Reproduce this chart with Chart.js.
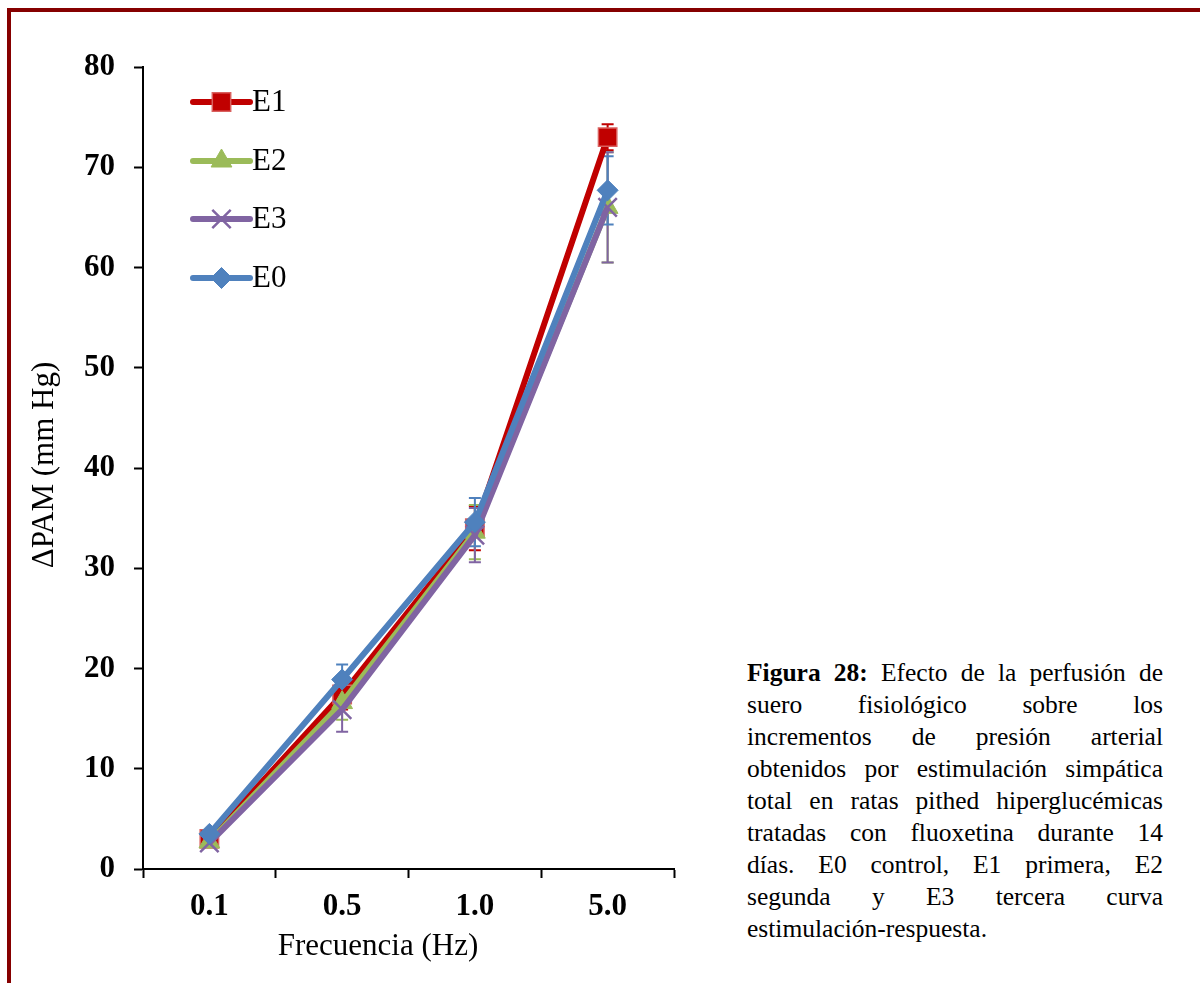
<!DOCTYPE html>
<html lang="es">
<head>
<meta charset="utf-8">
<title>Figura 28 – ΔPAM vs frecuencia</title>
<script src="https://cdn.jsdelivr.net/npm/chart.js@4/dist/chart.umd.min.js"></script>
<style>
  html, body { margin: 0; padding: 0; background: #ffffff; }
  body { width: 1200px; height: 983px; position: relative; overflow: hidden; }
  .frame {
    position: absolute; left: 7px; top: 8px; width: 1300px; height: 1100px;
    border-left: 4px solid #860000; border-top: 4px solid #860000;
  }
  #chartBox { position: absolute; left: 0; top: 0; width: 700px; height: 983px; }
  .caption {
    position: absolute; left: 747px; top: 657px; width: 416px;
    font-family: 'Liberation Serif', 'Times New Roman', serif;
    font-size: 25.5px; line-height: 32px; color: #000;
  }
  .caption div { text-align: justify; text-align-last: justify; white-space: nowrap; }
  .caption div.last { text-align-last: left; }
</style>
</head>
<body>
<div class="frame"></div>
<div id="chartBox"><canvas id="chart" width="700" height="983"></canvas></div>
<div class="caption">
  <div><b>Figura 28:</b> Efecto de la perfusión de</div>
  <div>suero fisiológico sobre los</div>
  <div>incrementos de presión arterial</div>
  <div>obtenidos por estimulación simpática</div>
  <div>total en ratas pithed hiperglucémicas</div>
  <div>tratadas con fluoxetina durante 14</div>
  <div>días. E0 control, E1 primera, E2</div>
  <div>segunda y E3 tercera curva</div>
  <div class="last">estimulación-respuesta.</div>
</div>
<script>
// Stimulation frequencies (Hz)
const categories = ['0.1', '0.5', '1.0', '5.0'];

// Mean ΔPAM (mm Hg) per curve and its error
const e1Values = [3.0, 17.4, 34.0, 73.0];
const e1Errors = [0.4, 1.5, 2.2, 1.3];
const e2Values = [2.7, 16.6, 33.6, 66.0];
const e2Errors = [0.4, 1.7, 2.7, 5.5];
const e3Values = [2.6, 15.9, 33.3, 66.0];
const e3Errors = [0.4, 2.2, 2.7, 5.5];
const e0Values = [3.5, 18.9, 34.6, 67.7];
const e0Errors = [0.4, 1.5, 2.4, 3.4];

// Y axis range
const yMin = 0, yMax = 80, yStep = 10;

const seriesNames = ['E1', 'E2', 'E3', 'E0'];

const SERIF = "'Liberation Serif', 'Times New Roman', serif";
Chart.defaults.font.family = SERIF;
Chart.defaults.color = '#000';

const RED = '#C00000', GREEN = '#9BBB59', PURPLE = '#8064A2', BLUE = '#4F81BD';

function series(label, data, errors, color, style, order) {
  return {
    label, data, errors, order,
    borderColor: color, backgroundColor: color,
    borderWidth: 6, tension: 0, fill: false,
    pointStyle: style.shape, pointRadius: style.radius,
    pointHoverRadius: style.radius,
    pointBackgroundColor: style.fill, pointBorderColor: style.stroke,
    pointBorderWidth: style.strokeWidth
  };
}

const datasets = [
  series('E1', e1Values, e1Errors, RED,
    { shape: 'rect', radius: 13, fill: RED, stroke: '#D9605E', strokeWidth: 1.5 }, 3),
  series('E2', e2Values, e2Errors, GREEN,
    { shape: 'triangle', radius: 12, fill: GREEN, stroke: GREEN, strokeWidth: 1 }, 2),
  series('E3', e3Values, e3Errors, PURPLE,
    { shape: 'crossRot', radius: 13, fill: PURPLE, stroke: PURPLE, strokeWidth: 2.5 }, 1),
  series('E0', e0Values, e0Errors, BLUE,
    { shape: 'rectRot', radius: 10.5, fill: BLUE, stroke: BLUE, strokeWidth: 1 }, 0)
];

// Vertical error bars with caps, drawn from each dataset's errors array
const errorBars = {
  id: 'errorBars',
  beforeDatasetsDraw(chart) {
    const { ctx, scales: { x, y } } = chart;
    const cap = 6;
    ctx.save();
    chart.data.datasets.forEach((ds) => {
      ctx.strokeStyle = ds.borderColor;
      ctx.lineWidth = 2;
      ds.data.forEach((v, i) => {
        const e = ds.errors[i];
        const px = x.getPixelForValue(i);
        const top = y.getPixelForValue(v + e);
        const bot = y.getPixelForValue(v - e);
        ctx.beginPath();
        ctx.moveTo(px, top); ctx.lineTo(px, bot);
        ctx.moveTo(px - cap, top); ctx.lineTo(px + cap, top);
        ctx.moveTo(px - cap, bot); ctx.lineTo(px + cap, bot);
        ctx.stroke();
      });
    });
    ctx.restore();
  }
};

// Legend stacked inside the plot area, top-left
const insideLegend = {
  id: 'insideLegend',
  afterDraw(chart) {
    const { ctx, chartArea } = chart;
    const x0 = chartArea.left + 50, x1 = chartArea.left + 107;
    const rowY = [chartArea.top + 35, chartArea.top + 94, chartArea.top + 152, chartArea.top + 211];
    ctx.save();
    seriesNames.forEach((name, k) => {
      const ds = chart.data.datasets.find(d => d.label === name);
      const yy = rowY[k];
      ctx.strokeStyle = ds.borderColor;
      ctx.lineWidth = 6;
      ctx.lineCap = 'round';
      ctx.beginPath();
      ctx.moveTo(x0, yy); ctx.lineTo(x1, yy);
      ctx.stroke();
      ctx.fillStyle = ds.pointBackgroundColor;
      ctx.strokeStyle = ds.pointBorderColor;
      ctx.lineWidth = ds.pointBorderWidth;
      ctx.lineCap = 'butt';
      Chart.helpers.drawPoint(ctx, {
        pointStyle: ds.pointStyle, radius: ds.pointRadius,
        rotation: 0, borderWidth: ds.pointBorderWidth
      }, (x0 + x1) / 2, yy);
      ctx.fillStyle = '#000';
      ctx.font = '31px ' + SERIF;
      ctx.textBaseline = 'middle';
      ctx.textAlign = 'left';
      ctx.fillText(name, x1 + 2, yy + 1);
    });
    ctx.restore();
  }
};

// Axis titles
const axisTitles = {
  id: 'axisTitles',
  afterDraw(chart) {
    const { ctx, chartArea } = chart;
    ctx.save();
    ctx.fillStyle = '#000';
    ctx.font = '31px ' + SERIF;
    ctx.textAlign = 'center';
    ctx.textBaseline = 'middle';
    ctx.fillText('Frecuencia (Hz)', chartArea.left + 235, chartArea.bottom + 78);
    ctx.translate(45, (chartArea.top + chartArea.bottom) / 2 - 3);
    ctx.rotate(-Math.PI / 2);
    ctx.fillText('ΔPAM (mm Hg)', 0, 0);
    ctx.restore();
  }
};

new Chart(document.getElementById('chart'), {
  type: 'line',
  data: { labels: categories, datasets },
  options: {
    responsive: false,
    animation: false,
    devicePixelRatio: 1,
    layout: { padding: { top: 67, right: 26, left: 0, bottom: 0 } },
    plugins: { legend: { display: false }, tooltip: { enabled: false } },
    scales: {
      x: {
        type: 'category',
        offset: true,
        grid: { offset: true, drawOnChartArea: false, drawTicks: true, tickLength: 9, tickWidth: 2, tickColor: '#000', color: '#000' },
        border: { display: true, color: '#000', width: 2 },
        ticks: { font: { size: 31, weight: 'bold' }, color: '#000', padding: 10, maxRotation: 0 },
        afterFit(scale) { scale.height = 114; }
      },
      y: {
        min: yMin, max: yMax,
        grid: { drawOnChartArea: false, drawTicks: true, tickLength: 9, tickWidth: 2, tickColor: '#000', color: '#000' },
        border: { display: true, color: '#000', width: 2 },
        ticks: { stepSize: yStep, font: { size: 31, weight: 'bold' }, color: '#000', padding: 19 },
        afterFit(scale) { scale.width = 143; }
      }
    }
  },
  plugins: [errorBars, insideLegend, axisTitles]
});
</script>
</body>
</html>
